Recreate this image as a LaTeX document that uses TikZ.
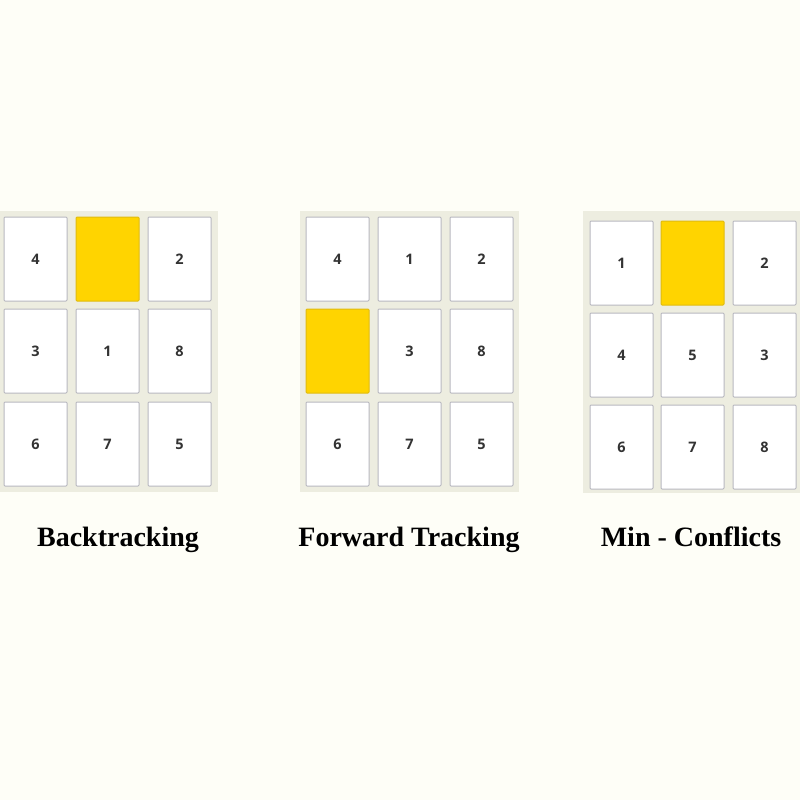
\documentclass[tikz,border=0pt]{standalone}
\usepackage{fontspec}
\setmainfont{Liberation Serif}
\newfontfamily\numfont{Open Sans}
\definecolor{pagebg}{HTML}{FEFEF7}
\definecolor{gridbg}{HTML}{EDEDE0}
\definecolor{cellline}{HTML}{B8B8C0}
\definecolor{goldfill}{HTML}{FFD400}
\definecolor{goldline}{HTML}{E0BB10}
\definecolor{numcol}{HTML}{333333}
\begin{document}
\begin{tikzpicture}[x=1pt,y=-1pt,
  tile/.style={draw=cellline,line width=1pt,fill=white,rounded corners=1pt,
    minimum width=63pt,minimum height=84pt,inner sep=0pt,anchor=north west,
    font=\numfont\bfseries\fontsize{14.5}{14.5}\selectfont,text=numcol},
  blank/.style={tile,fill=goldfill,draw=goldline},
  caption/.style={font=\bfseries\fontsize{28}{28}\selectfont,text=black,inner sep=0pt,anchor=base}]
\fill[pagebg] (0,0) rectangle (800,800);
\useasboundingbox (0,0) rectangle (800,800);
% panels
\fill[gridbg] (-1,211) rectangle (218,492);
\fill[gridbg] (300,211) rectangle (519,492);
\fill[gridbg] (583,211) rectangle (801,493);
% grid 1
\node[tile]  (a11) at (3.5,216.5) {4};
\node[blank] (a12) at (75.5,216.5) {};
\node[tile]  (a13) at (147.5,216.5) {2};
\node[tile]  (a21) at (3.5,308.5) {3};
\node[tile]  (a22) at (75.5,308.5) {1};
\node[tile]  (a23) at (147.5,308.5) {8};
\node[tile]  (a31) at (3.5,401.5) {6};
\node[tile]  (a32) at (75.5,401.5) {7};
\node[tile]  (a33) at (147.5,401.5) {5};
% grid 2
\node[tile]  (b11) at (305.5,216.5) {4};
\node[tile]  (b12) at (377.5,216.5) {1};
\node[tile]  (b13) at (449.5,216.5) {2};
\node[blank] (b21) at (305.5,308.5) {};
\node[tile]  (b22) at (377.5,308.5) {3};
\node[tile]  (b23) at (449.5,308.5) {8};
\node[tile]  (b31) at (305.5,401.5) {6};
\node[tile]  (b32) at (377.5,401.5) {7};
\node[tile]  (b33) at (449.5,401.5) {5};
% grid 3
\node[tile]  (c11) at (589.5,220.5) {1};
\node[blank] (c12) at (660.5,220.5) {};
\node[tile]  (c13) at (732.5,220.5) {2};
\node[tile]  (c21) at (589.5,312.5) {4};
\node[tile]  (c22) at (660.5,312.5) {5};
\node[tile]  (c23) at (732.5,312.5) {3};
\node[tile]  (c31) at (589.5,404.5) {6};
\node[tile]  (c32) at (660.5,404.5) {7};
\node[tile]  (c33) at (732.5,404.5) {8};
% captions
\node[caption] (t1) at (118,546) {Backtracking};
\node[caption] (t2) at (409,546) {Forward Tracking};
\node[caption] (t3) at (691,546) {Min - Conflicts};
\end{tikzpicture}
\end{document}
